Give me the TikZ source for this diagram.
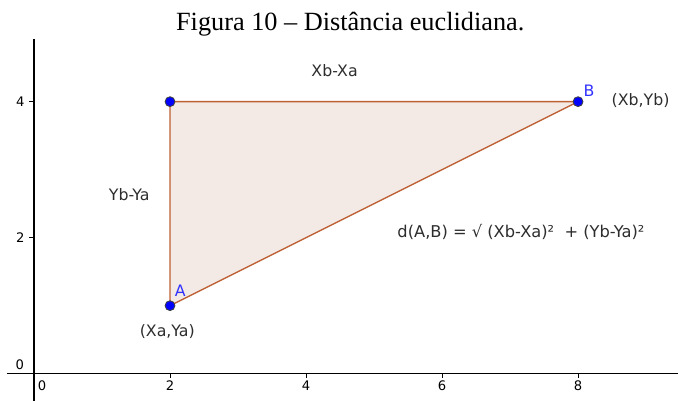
\documentclass[tikz,border=0pt]{standalone}
\usepackage{fontspec}
\setmainfont{Liberation Serif}
\newfontfamily\ggbfont{DejaVu Sans}

\definecolor{segcol}{RGB}{190,96,52}
\definecolor{polyfill}{RGB}{243,233,229}
\definecolor{ptblue}{RGB}{0,0,255}
\definecolor{lblblue}{RGB}{50,50,255}
\definecolor{txtgray}{RGB}{45,45,45}

\begin{document}
\begin{tikzpicture}[x=1cm, y=1cm,
    lbl/.style={font=\ggbfont\fontsize{6.6}{8}\selectfont, text=txtgray, inner sep=0pt},
    ticklbl/.style={font=\ggbfont\fontsize{5.5}{7}\selectfont, inner sep=0pt},
    ptlbl/.style={font=\ggbfont\fontsize{6.6}{8}\selectfont, text=lblblue, inner sep=0pt},
    pt/.style={circle, draw=black!75, fill=ptblue, line width=0.35pt, inner sep=0pt, minimum size=0.145cm}]
    \useasboundingbox (-0.5,-0.4) rectangle (9.47,5.495);

    \node[font=\fontsize{11}{13}\selectfont] (title) at (4.65,5.14) {Figura 10 – Distância euclidiana.};

    % axes
    \coordinate (xmin) at (-0.4,0);
    \coordinate (xmax) at (9.47,0);
    \coordinate (ymin) at (0,-0.4);
    \coordinate (ymax) at (0,4.92);
    \draw[line width=0.5pt] (xmin) -- (xmax);
    \draw[line width=0.5pt] (ymin) -- (ymax);
    \foreach \x in {2,4,6,8} {
        \draw[line width=0.4pt] (\x,0) -- (\x,-0.06);
        \node[ticklbl] (xt\x) at (\x,-0.17) {\x};
    }
    \foreach \y in {2,4} {
        \draw[line width=0.4pt] (0,\y) -- (-0.08,\y);
        \node[ticklbl] (yt\y) at (-0.2,\y) {\y};
    }
    \node[ticklbl] (x0) at (0.12,-0.17) {0};
    \node[ticklbl] (y0) at (-0.21,0.13) {0};

    % triangle
    \coordinate (a) at (2,1);
    \coordinate (c) at (2,4);
    \coordinate (b) at (8,4);
    \filldraw[draw=segcol, fill=polyfill, line width=0.6pt] (a) -- (c) -- (b) -- cycle;

    \node[pt] (A) at (a) {};
    \node[pt] (C) at (c) {};
    \node[pt] (B) at (b) {};

    \node[ptlbl] (Alab) at (2.15,1.22) {A};
    \node[ptlbl] (Blab) at (8.16,4.16) {B};
    \node[lbl] (Acoord) at (1.96,0.62) {(Xa,Ya)};
    \node[lbl] (Bcoord) at (8.92,4.01) {(Xb,Yb)};
    \node[lbl] (dx) at (4.42,4.46) {Xb-Xa};
    \node[lbl] (dy) at (1.40,2.64) {Yb-Ya};
    \node[lbl, font=\ggbfont\fontsize{6.8}{8}\selectfont] (dist) at (7.16,2.08) {d(A,B) = √ (Xb-Xa)²\ \ + (Yb-Ya)²};
\end{tikzpicture}
\end{document}
